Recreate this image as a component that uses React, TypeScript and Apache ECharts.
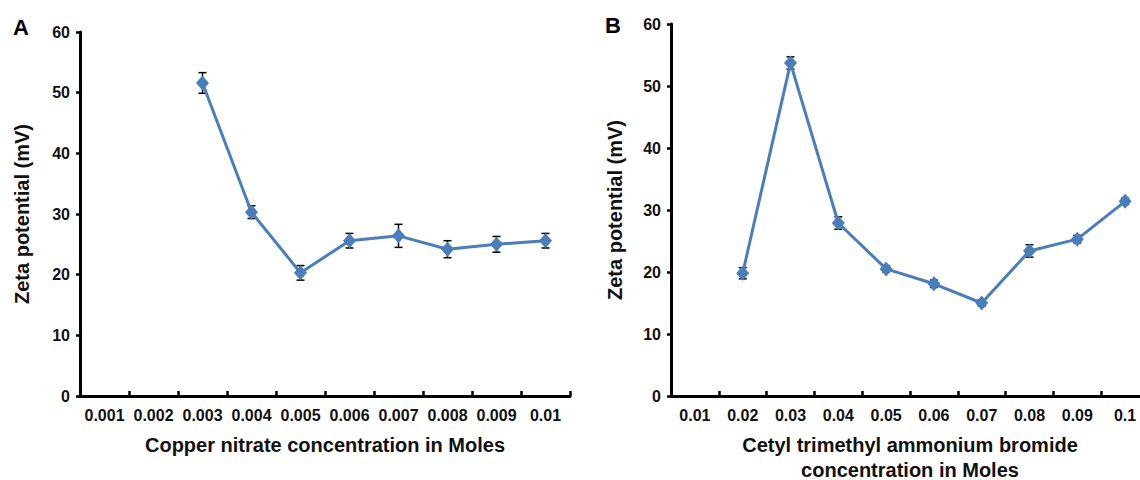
import React, { useEffect, useRef } from "react";
import * as echarts from "echarts";

// Panel A: copper nitrate concentration (M) vs zeta potential (mV)
const catsA = ["0.001", "0.002", "0.003", "0.004", "0.005", "0.006", "0.007", "0.008", "0.009", "0.01"];
const zetaA: (number | null)[] = [null, null, 51.6, 30.3, 20.3, 25.6, 26.4, 24.2, 25.0, 25.6];
const errA: (number | null)[] = [null, null, 1.7, 1.05, 1.2, 1.2, 1.9, 1.4, 1.3, 1.2];

// Panel B: CTAB concentration (M) vs zeta potential (mV)
const catsB = ["0.01", "0.02", "0.03", "0.04", "0.05", "0.06", "0.07", "0.08", "0.09", "0.1"];
const zetaB: (number | null)[] = [null, 19.8, 53.7, 27.9, 20.5, 18.1, 15.0, 23.4, 25.3, 31.4];
const errB: (number | null)[] = [null, 0.9, 1.0, 1.0, 0.5, 0.6, 0.5, 1.0, 0.6, 0.5];

const yTicks = { min: 0, max: 60, interval: 10 };

const FONT = "'Liberation Sans', Arial, sans-serif";
const BLUE = "#4a7ebb";

function errData(vals: (number | null)[], errs: (number | null)[]) {
  const out: number[][] = [];
  vals.forEach((v, i) => {
    const e = errs[i];
    if (v != null && e != null) out.push([i, v - e, v + e]);
  });
  return out;
}

const errorRender = (_params: any, api: any) => {
  const x = api.value(0);
  const pLo = api.coord([x, api.value(1)]);
  const pHi = api.coord([x, api.value(2)]);
  const w = 4;
  const style = { stroke: "#000", lineWidth: 1.5 };
  return {
    type: "group",
    children: [
      { type: "line", shape: { x1: pLo[0], y1: pLo[1], x2: pHi[0], y2: pHi[1] }, style },
      { type: "line", shape: { x1: pHi[0] - w, y1: pHi[1], x2: pHi[0] + w, y2: pHi[1] }, style },
      { type: "line", shape: { x1: pLo[0] - w, y1: pLo[1], x2: pLo[0] + w, y2: pLo[1] }, style },
    ],
  };
};

function xAxis(cats: string[], gridIndex: number, name: string) {
  return {
    type: "category",
    gridIndex,
    data: cats,
    boundaryGap: true,
    name,
    nameLocation: "middle",
    nameGap: 36,
    nameTextStyle: { fontFamily: FONT, fontWeight: "bold", fontSize: 20, color: "#111", lineHeight: 25, verticalAlign: "top" },
    axisLine: { show: true, lineStyle: { color: "#000", width: 3 } },
    axisTick: { show: true, inside: true, length: 5, lineStyle: { color: "#000", width: 2.5 } },
    axisLabel: { fontFamily: FONT, fontWeight: "bold", fontSize: 16, color: "#111", margin: 11, interval: 0 },
    splitLine: { show: false },
  };
}

function yAxis(gridIndex: number, nameGap: number) {
  return {
    type: "value",
    gridIndex,
    ...yTicks,
    name: "Zeta potential (mV)",
    nameLocation: "middle",
    nameGap,
    nameTextStyle: { fontFamily: FONT, fontWeight: "bold", fontSize: 20, color: "#111" },
    axisLine: { show: true, lineStyle: { color: "#000", width: 3 } },
    axisTick: { show: true, inside: false, length: 4, lineStyle: { color: "#000", width: 2.5 } },
    axisLabel: { fontFamily: FONT, fontWeight: "bold", fontSize: 16, color: "#111", margin: 10 },
    splitLine: { show: false },
  };
}

function lineSeries(vals: (number | null)[], idx: number) {
  return {
    type: "line",
    xAxisIndex: idx,
    yAxisIndex: idx,
    data: vals,
    symbol: "diamond",
    symbolSize: [13, 15],
    itemStyle: { color: BLUE },
    lineStyle: { color: BLUE, width: 3 },
    z: 3,
  };
}

function errSeries(vals: (number | null)[], errs: (number | null)[], idx: number) {
  return {
    type: "custom",
    xAxisIndex: idx,
    yAxisIndex: idx,
    data: errData(vals, errs),
    encode: { x: 0, y: [1, 2] },
    renderItem: errorRender,
    z: 1,
    silent: true,
  };
}

export default function App() {
  const ref = useRef<HTMLDivElement>(null);
  useEffect(() => {
    if (!ref.current) return;
    const chart = echarts.init(ref.current, undefined, { renderer: "svg" });
    chart.setOption({
      animation: false,
      backgroundColor: "#fff",
      grid: [
        { left: 80, right: 570, top: 32, bottom: 84, outerBoundsMode: "none", containLabel: false },
        { left: 671, right: -9, top: 24, bottom: 84, outerBoundsMode: "none", containLabel: false },
      ],
      xAxis: [
        xAxis(catsA, 0, "Copper nitrate concentration in Moles"),
        xAxis(catsB, 1, "Cetyl trimethyl ammonium bromide\nconcentration in Moles"),
      ],
      yAxis: [yAxis(0, 48), yAxis(1, 46)],
      graphic: [
        { type: "text", left: 13, top: 16, style: { text: "A", font: `bold 22px ${FONT}`, fill: "#000" } },
        { type: "text", left: 605, top: 14, style: { text: "B", font: `bold 22px ${FONT}`, fill: "#000" } },
      ],
      series: [
        errSeries(zetaA, errA, 0),
        lineSeries(zetaA, 0),
        errSeries(zetaB, errB, 1),
        lineSeries(zetaB, 1),
      ],
    });
    return () => chart.dispose();
  }, []);
  return (
    <div
      ref={ref}
      style={{ position: "absolute", left: 0, top: 0, width: 1140, height: 480, background: "#fff" }}
    />
  );
}
